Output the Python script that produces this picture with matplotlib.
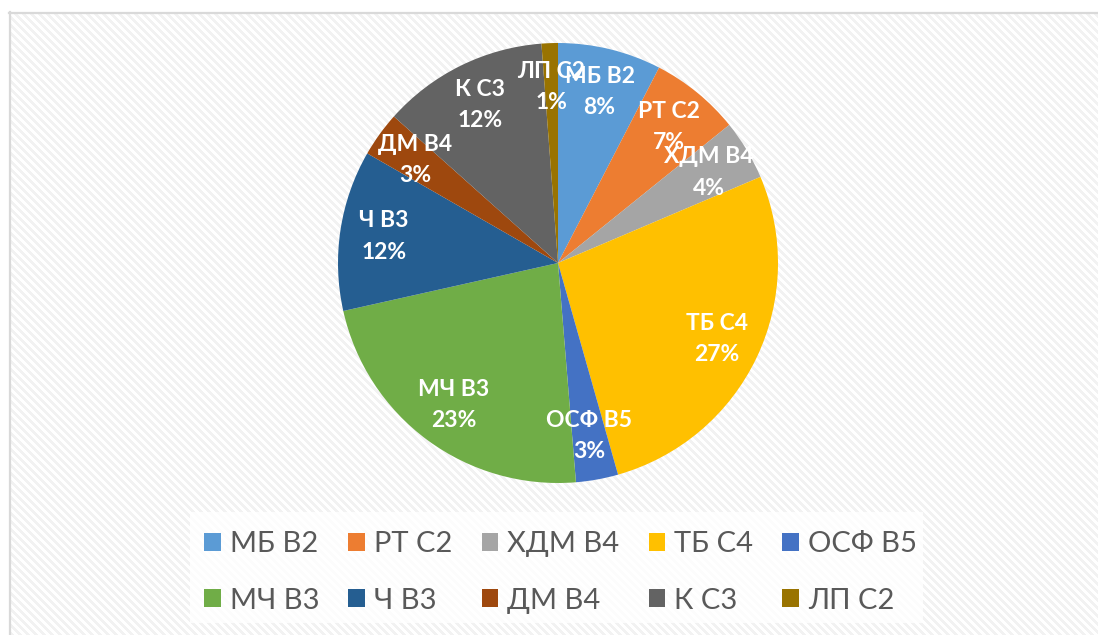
import numpy as np
import matplotlib.pyplot as plt
from matplotlib.patches import Rectangle

# shares of each group (percent)
names = ["МБ В2", "РТ С2", "ХДМ В4", "ТБ С4", "ОСФ В5",
         "МЧ В3", "Ч В3", "ДМ В4", "К С3", "ЛП С2"]
values = [7.6, 6.6, 4.4, 27.0, 3.1, 22.8, 11.8, 3.3, 12.2, 1.2]
colors = ["#5B9BD5", "#ED7D31", "#A5A5A5", "#FFC000", "#4472C4",
          "#70AD47", "#255E91", "#9E480E", "#636363", "#997300"]

plt.rcParams['font.family'] = ['Lato', 'DejaVu Sans']

W, H = 1098, 635
fig = plt.figure(figsize=(W / 100, H / 100), dpi=100)

# striped chart-area background
bg = fig.add_axes([0, 0, 1, 1])
yy, xx = np.mgrid[0:H, 0:W]
stripes = ((xx - yy) // 4) % 2 == 0
img = np.ones((H, W, 3))
img[stripes] = 0.95
img[(xx < 9) | (yy < 12)] = 1.0
bg.imshow(img, extent=(0, W, H, 0), interpolation='nearest')
bg.plot([9, W], [12.5, 12.5], color='#d9d9d9', lw=1.6)
bg.plot([9.5, 9.5], [12, H], color='#d9d9d9', lw=1.6)
bg.add_patch(Rectangle((190, 512), 733, 111, facecolor='white', alpha=0.8, lw=0))
bg.set_xlim(0, W)
bg.set_ylim(H, 0)
bg.axis('off')

# pie
cx, cy, r = 558, 263, 220
ax = fig.add_axes([(cx - r) / W, (H - cy - r) / H, 2 * r / W, 2 * r / H])
wedges, texts, autotexts = ax.pie(
    values, colors=colors, startangle=90, counterclock=False,
    autopct='%.0f%%', pctdistance=0.8,
    textprops=dict(color='white', fontsize=16.5, fontweight='bold'),
)
for t, name in zip(autotexts, names):
    t.set_text(f"{name}\n{t.get_text()}")
    t.set_linespacing(1.6)
    t.set_ha('center')
    t.set_va('center')
ax.set_xlim(-1, 1)
ax.set_ylim(-1, 1)
ax.axis('off')

# legend, filled row by row
order = [0, 5, 1, 6, 2, 7, 3, 8, 4, 9]
leg = fig.legend([wedges[i] for i in order], [names[i] for i in order],
                 ncol=5, loc='upper left',
                 bbox_to_anchor=(204 / W, 1 - 531 / H),
                 frameon=False, fontsize=21, labelcolor='#595959',
                 borderpad=0, borderaxespad=0,
                 handlelength=0.58, handleheight=0.58, handletextpad=0.3,
                 columnspacing=1.0, labelspacing=1.05)

fig.savefig('out.png', dpi=100)
